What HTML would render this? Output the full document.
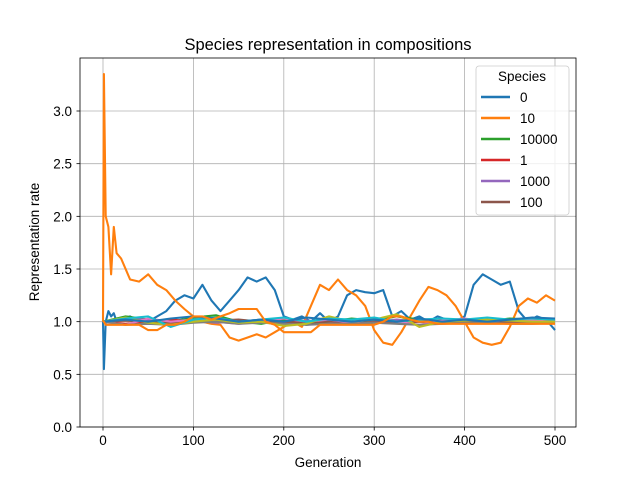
<!DOCTYPE html>
<html><head><meta charset="utf-8"><style>
body{margin:0;background:#fff;}
svg text{font-family:"Liberation Sans","DejaVu Sans",sans-serif;fill:#000;}
</style></head><body>
<svg id="chart" width="640" height="480" viewBox="0 0 640 480">
<rect x="0" y="0" width="640" height="480" fill="#fff"/>
<g id="grid"></g>
<g id="series"></g>
<rect x="80" y="58" width="496" height="369" fill="none" stroke="#000" stroke-width="0.8"/>
<g id="ticks"></g>
<text x="328" y="50" text-anchor="middle" font-size="16.5">Species representation in compositions</text>
<text x="328" y="467" text-anchor="middle" font-size="13.5">Generation</text>
<text transform="translate(39,242) rotate(-90)" text-anchor="middle" font-size="13.5">Representation rate</text>
<g id="legend"></g>
</svg>
<script>
const gens = [0,1,3,6,9,12,15,20,30,40,50,60,70,80,90,100,110,120,130,140,150,160,170,180,190,200,210,220,230,240,250,260,270,280,290,300,310,320,330,340,350,360,370,380,390,400,410,420,430,440,450,460,470,480,490,500];
const blueA = [1.0,0.55,1.0,1.1,1.05,1.08,1.0,1.02,1.05,1.0,1.0,1.05,1.1,1.2,1.25,1.22,1.35,1.2,1.1,1.2,1.3,1.42,1.38,1.42,1.3,1.05,1.02,1.05,1.0,1.08,1.0,1.05,1.25,1.3,1.28,1.27,1.3,1.05,1.1,1.02,1.05,1.0,1.05,1.02,1.0,1.05,1.35,1.45,1.4,1.35,1.38,1.1,1.0,1.05,1.02,0.92];
const orangeA = [1.0,3.35,2.0,1.9,1.45,1.9,1.65,1.6,1.4,1.38,1.45,1.35,1.3,1.2,1.12,1.05,1.0,0.98,0.97,0.85,0.82,0.85,0.88,0.85,0.9,0.95,1.0,0.95,1.15,1.35,1.3,1.4,1.3,1.25,1.15,0.92,0.8,0.78,0.9,1.05,1.2,1.33,1.3,1.25,1.15,1.0,0.85,0.8,0.78,0.8,0.95,1.15,1.22,1.18,1.25,1.2];
const orangeB = [1.0,1.0,0.97,0.97,0.97,0.97,0.97,0.97,0.97,0.97,0.92,0.92,0.97,0.97,1.0,1.05,1.05,1.02,1.05,1.08,1.12,1.12,1.12,1.0,0.97,0.9,0.9,0.9,0.9,0.97,0.97,0.97,0.97,0.97,0.97,0.97,1.0,1.05,1.05,1.02,1.0,1.0,0.98,0.98,0.98,0.98,0.98,0.98,0.98,0.98,0.98,0.98,0.98,0.98,0.98,0.98];
const gens2 = [0,25,50,75,100,125,150,175,200,225,250,275,300,325,350,375,400,425,450,475,500];
const green = [1.0,1.05,1.02,1.0,1.04,1.06,1.0,0.98,1.02,0.97,1.0,1.03,1.01,1.05,1.02,1.0,1.02,1.0,1.03,1.02,1.01];
const red = [1.0,0.98,1.0,1.02,1.0,1.0,1.01,1.0,0.99,1.0,1.01,1.0,1.0,0.99,1.0,1.01,1.0,1.0,1.0,1.0,1.0];
const purple = [1.0,1.03,1.02,1.0,1.01,0.99,1.0,1.02,1.0,1.01,1.0,0.99,1.0,1.02,1.0,0.99,1.0,1.01,1.0,1.0,1.0];
const brown = [1.0,1.01,1.0,0.99,1.0,1.01,1.02,1.0,1.0,0.99,1.0,1.0,1.01,1.0,1.0,0.99,1.0,1.0,1.0,1.0,1.0];
const pink = [1.0,0.97,1.03,1.0,1.02,1.0,0.98,1.0,1.03,1.0,1.02,0.99,1.03,1.0,0.97,1.01,1.03,1.0,1.02,1.01,1.0];
const gray = [1.0,0.97,0.98,0.97,0.99,1.0,0.98,0.99,0.98,0.97,0.98,0.98,0.99,0.98,0.97,0.98,0.99,0.99,0.98,0.98,0.99];
const olive = [1.0,1.04,0.99,0.97,1.0,1.02,0.99,1.0,0.96,0.98,1.05,1.0,1.02,1.07,0.95,1.0,1.01,1.02,1.01,1.0,1.0];
const cyan = [1.0,1.03,1.05,0.95,1.02,1.04,1.0,1.02,1.04,1.0,1.03,1.02,1.04,1.0,1.02,1.03,1.02,1.04,1.02,1.03,1.02];
const blueB = [1.0,1.02,1.0,1.03,1.05,1.03,1.0,1.02,1.0,1.04,1.02,1.0,1.02,1.0,1.03,1.0,1.02,1.0,1.02,1.04,1.03];
const xTicks = [0,100,200,300,400,500];
const yTicks = [0.0,0.5,1.0,1.5,2.0,2.5,3.0];
const yTickLabels = ["0.0","0.5","1.0","1.5","2.0","2.5","3.0"];
const legendLabels = ["0","10","10000","1","1000","100"];
const legendColors = ["#1f77b4","#ff7f0e","#2ca02c","#d62728","#9467bd","#8c564b"];

const NS="http://www.w3.org/2000/svg";
function xs(v){return 103+(v/500)*452;}
function ys(v){return 427-(v/3)*316;}
function mk(t,a){const e=document.createElementNS(NS,t);for(const k in a)e.setAttribute(k,a[k]);return e;}
const grid=document.getElementById('grid'),ticks=document.getElementById('ticks');
xTicks.forEach(t=>{
  const g=mk('line',{x1:xs(t),x2:xs(t),y1:58,y2:427,stroke:'#b0b0b0','stroke-width':0.8});
  
  
  grid.appendChild(g);
  const tk=mk('line',{x1:xs(t),x2:xs(t),y1:427,y2:430.5,stroke:'#000','stroke-width':0.8});
  
  
  ticks.appendChild(tk);
  const tx=mk('text',{x:xs(t),y:445,'text-anchor':'middle','font-size':13.5});
  tx.textContent=String(t);
  
  
  ticks.appendChild(tx);
});
yTicks.forEach((t,i)=>{
  const g=mk('line',{x1:80,x2:576,y1:ys(t),y2:ys(t),stroke:'#b0b0b0','stroke-width':0.8});
  
  
  grid.appendChild(g);
  const tk=mk('line',{x1:76.5,x2:80,y1:ys(t),y2:ys(t),stroke:'#000','stroke-width':0.8});
  
  
  ticks.appendChild(tk);
  const tx=mk('text',{x:72,y:ys(t)+5,'text-anchor':'end','font-size':13.5});
  tx.textContent=yTickLabels[i];
  
  
  ticks.appendChild(tx);
});
const series=document.getElementById('series');
function draw(xv,yv,color,name){
  const d=xv.map((x,i)=>(i?'L':'M')+xs(x).toFixed(1)+','+ys(yv[i]).toFixed(1)).join('');
  const p=mk('path',{d:d,fill:'none',stroke:color,'stroke-width':2.1,'stroke-linejoin':'round'});
  
  
  series.appendChild(p);
}
draw(gens,blueA,'#1f77b4','series-0-line');
draw(gens,orangeA,'#ff7f0e','series-10-line');
draw(gens2,green,'#2ca02c','series-10000-line');
draw(gens2,red,'#d62728','series-1-line');
draw(gens2,purple,'#9467bd','series-1000-line');
draw(gens2,brown,'#8c564b','series-100-line');
draw(gens2,pink,'#e377c2','series-pink-line');
draw(gens2,gray,'#7f7f7f','series-gray-line');
draw(gens2,olive,'#bcbd22','series-olive-line');
draw(gens2,cyan,'#17becf','series-cyan-line');
draw(gens2,blueB,'#1f77b4','series-blue2-line');
draw(gens,orangeB,'#ff7f0e','series-orange2-line');

const lg=document.getElementById('legend');
const box=mk('rect',{x:476,y:66,width:93,height:149,rx:3,fill:'#fff','fill-opacity':0.8,stroke:'#cccccc','stroke-width':0.8});


lg.appendChild(box);
const lt=mk('text',{x:522,y:81,'text-anchor':'middle','font-size':13.5});
lt.textContent='Species';


lg.appendChild(lt);
legendLabels.forEach((l,i)=>{
  const y=97+i*21;
  const ln=mk('line',{x1:481,x2:510,y1:y,y2:y,stroke:legendColors[i],'stroke-width':2.5});
  
  
  lg.appendChild(ln);
  const tx=mk('text',{x:520,y:y+5,'font-size':13.5});
  tx.textContent=l;
  
  
  lg.appendChild(tx);
});
</script>
</body></html>
